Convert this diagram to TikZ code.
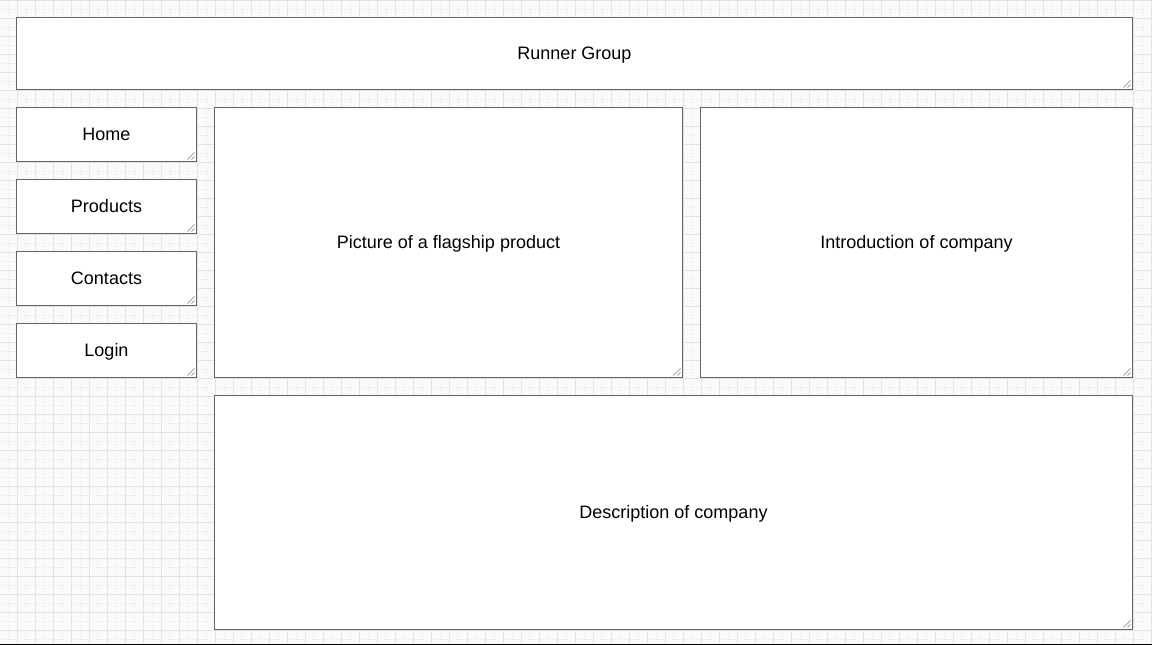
\documentclass[tikz,border=0pt]{standalone}
\usepackage{fontspec}
\setmainfont{Liberation Sans}
\usepackage{tikz}
\usetikzlibrary{positioning}
\usetikzlibrary{calc}
\definecolor{frame}{RGB}{102,102,102}
\definecolor{gridmajor}{RGB}{226,226,226}
\definecolor{gridminor}{RGB}{230,230,230}
\definecolor{paper}{RGB}{250,250,250}
\definecolor{handle}{RGB}{165,165,165}
\definecolor{baseline}{RGB}{122,112,64}

\tikzset{
  panel/.style={draw=frame, fill=white, line width=0.75pt, inner sep=0pt, outer sep=0pt, text centered, text height=9.7pt, text depth=0pt, font=\fontsize{13.5}{16}\selectfont},
  menu/.style={minimum width=135pt, minimum height=40.5pt}
}

\begin{document}
\begin{tikzpicture}[x=0.75pt,y=-0.75pt]
        \useasboundingbox (0,0) rectangle (1152,645);
        \fill[paper] (0,0) rectangle (1152,645);

        % grid %
        \foreach \gx in {8,26,...,1152} \draw[gridminor, line width=0.75pt, dash pattern=on 0.75pt off 1.5pt] (\gx+0.5,0) -- (\gx+0.5,645);
        \foreach \gy in {9,27,...,645} \draw[gridminor, line width=0.75pt, dash pattern=on 0.75pt off 1.5pt] (0,\gy+0.5) -- (1152,\gy+0.5);
        \foreach \gx in {-1,17,...,1152} \draw[gridmajor, line width=0.75pt] (\gx+0.5,0) -- (\gx+0.5,645);
        \foreach \gy in {0,18,...,645} \draw[gridmajor, line width=0.75pt] (0,\gy+0.5) -- (1152,\gy+0.5);
        \draw[baseline, line width=0.75pt] (0,644.5) -- (1152,644.5);

        % nodes %
        \node[panel, minimum width=837pt, minimum height=54pt] (header) at (574.5,53.5) {Runner Group};
        \node[panel, menu, anchor=north west] (home) at (16.5,107.5) {Home};
        \node[panel, menu, below=13.5pt of home] (products) {Products};
        \node[panel, menu, below=13.5pt of products] (contacts) {Contacts};
        \node[panel, menu, below=13.5pt of contacts] (login) {Login};
        \node[panel, minimum width=351pt, minimum height=202.5pt, right=13.5pt of home.north east, anchor=north west] (picture) {Picture of a flagship product};
        \node[panel, minimum width=324pt, minimum height=202.5pt, right=13.5pt of picture] (intro) {Introduction of company};
        \node[panel, minimum width=688.5pt, minimum height=175.5pt, below=13.5pt of picture.south west, anchor=north west] (desc) {Description of company};

        % resize handles %
        \foreach \n in {header,home,products,contacts,login,picture,intro,desc} {
          \draw[handle, line width=0.75pt] ($(\n.south east)+(-9,-2)$) -- ($(\n.south east)+(-2,-9)$);
          \draw[handle, line width=0.75pt] ($(\n.south east)+(-5,-2)$) -- ($(\n.south east)+(-2,-5)$);
        }
      \end{tikzpicture}
\end{document}
